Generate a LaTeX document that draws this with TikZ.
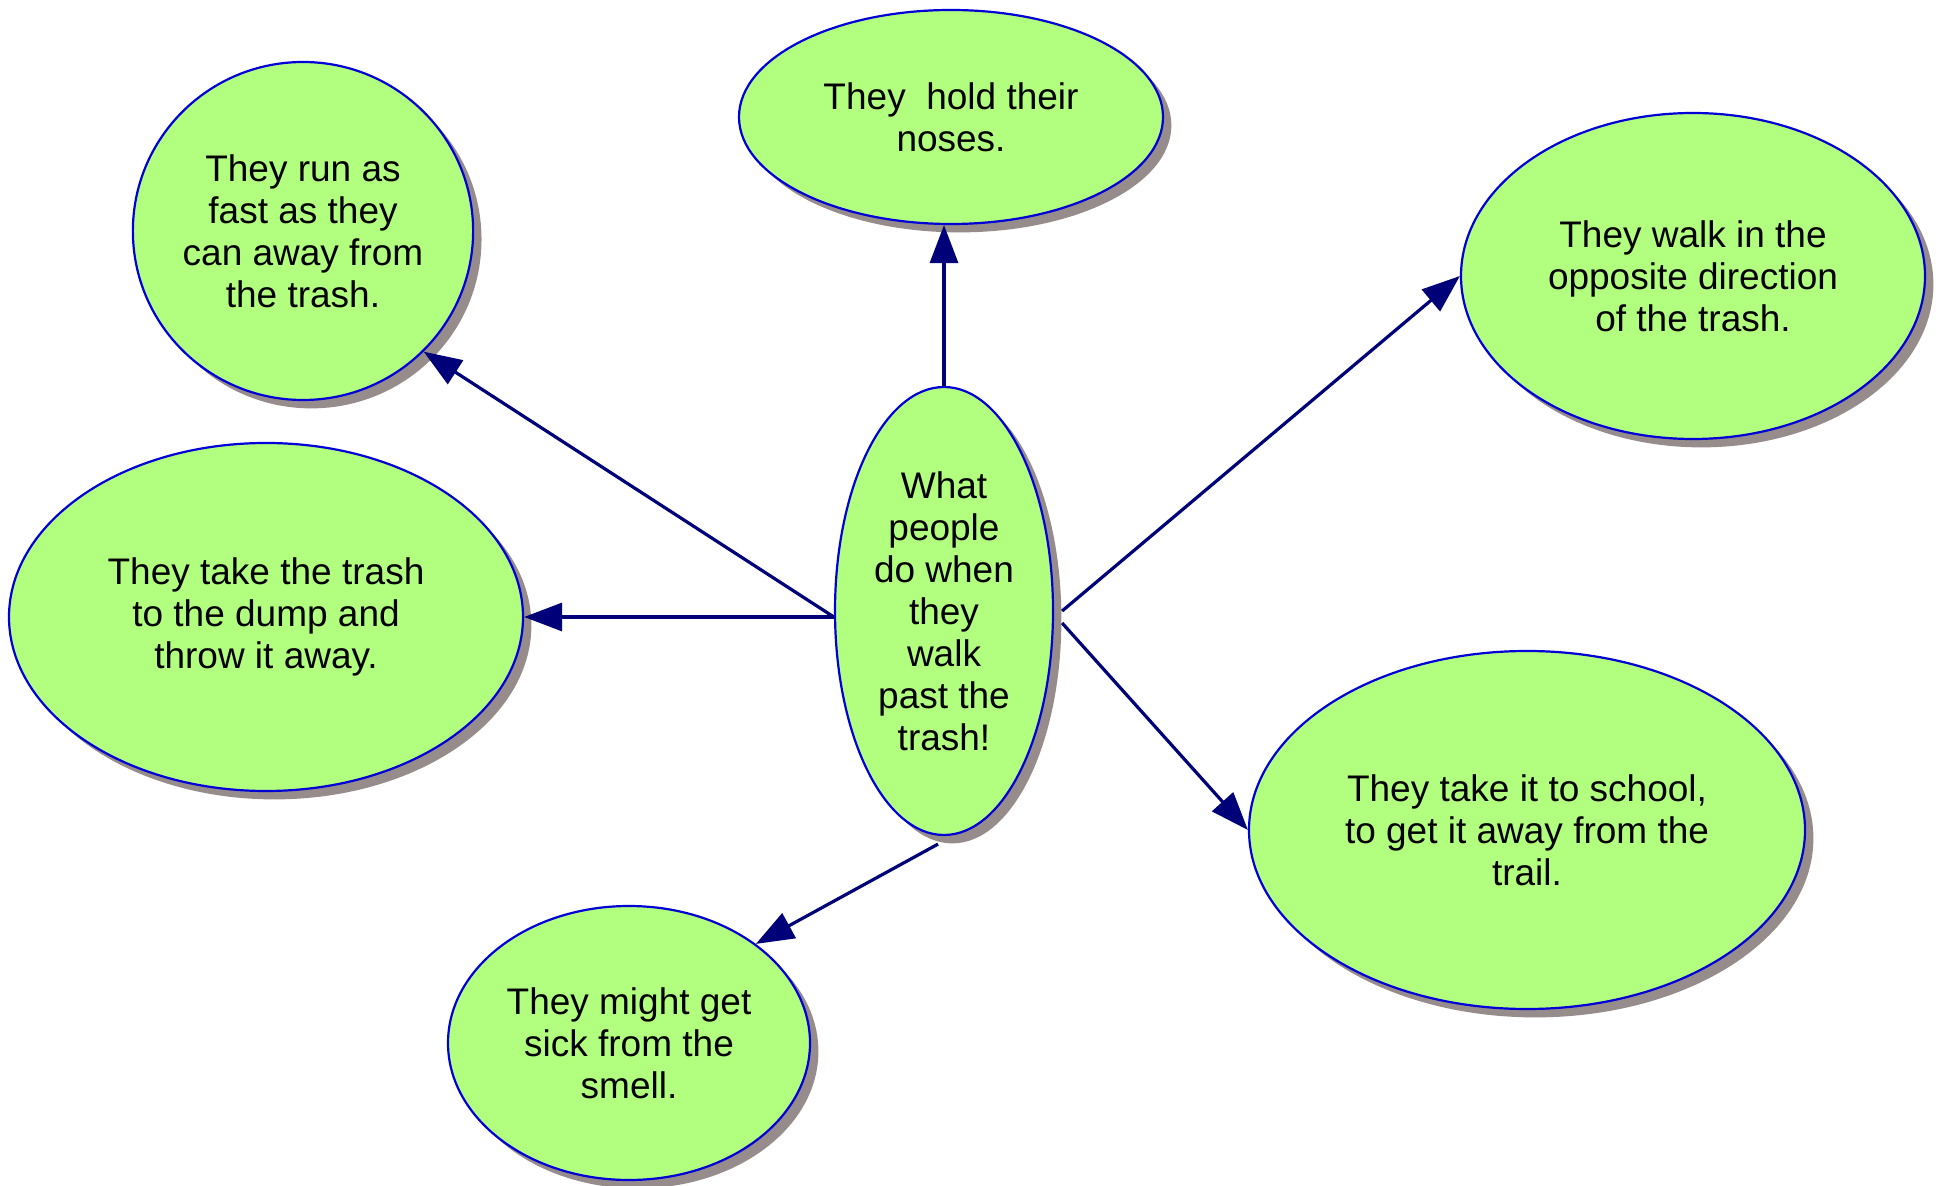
\documentclass[tikz,border=0pt]{standalone}
\usepackage{fontspec}
\setmainfont{Liberation Sans}
\usetikzlibrary{positioning,arrows.meta,shapes.geometric,shadows}
\definecolor{bubblegreen}{RGB}{178,255,128}
\definecolor{bubbleblue}{RGB}{0,0,215}
\definecolor{arrownavy}{RGB}{0,0,120}
\definecolor{shadowgray}{RGB}{150,140,140}
\tikzset{
bubble/.style 2 args = {ellipse, minimum width=#1, minimum height=#2, inner sep=0pt,
  fill=bubblegreen, draw=bubbleblue, line width=1.1pt, align=center,
  font=\fontsize{18.5}{21}\selectfont,
  drop shadow={shadow xshift=4.2pt, shadow yshift=-4.2pt, fill=shadowgray, opacity=1}},
link/.style = {draw=arrownavy, line width=1.6pt, -{Triangle[length=19pt,width=14pt]}}
}

\begin{document}
\begin{tikzpicture}[x=0.5pt, y=-0.5pt]
      \useasboundingbox (0,0) rectangle (1948,1186);
      % centre question
      \node [bubble={109pt}{224pt}] (c) at (944,611)
        {What\\people\\do when\\they\\walk\\past the\\trash!};
      % answers
      \node [bubble={212pt}{107pt}] (noses) at (951,117) {They~ hold their\\noses.};
      \node [bubble={169pt}{169pt}] (run) at (303,231)
        {They run as\\fast as they\\can away from\\the trash.};
      \node [bubble={257pt}{174pt}] (dump) at (266,617)
        {They take the trash\\to the dump and\\throw it away.};
      \node [bubble={232pt}{163pt}] (walk) at (1693,276)
        {They walk in the\\opposite direction\\of the trash.};
      \node [bubble={278pt}{179pt}] (school) at (1527,830)
        {They take it to school,\\to get it away from the\\trail.};
      \node [bubble={181pt}{137pt}] (sick) at (629,1043)
        {They might get\\sick from the\\smell.};
      % arrows
      \draw [link] (c.north) -- (c.north |- noses.south);
      \draw [link] ([yshift=-3pt]c.west) -- (run.-45);
      \draw [link] ([yshift=-3pt]c.west) -- (dump.east);
      \draw [link] ([xshift=4pt]c.east) -- (walk.west);
      \draw [link] ([xshift=4pt,yshift=-6pt]c.east) -- (school.west);
      \draw [link] ([xshift=-3pt,yshift=-4pt]c.south) -- (sick.38);
\end{tikzpicture}
\end{document}
